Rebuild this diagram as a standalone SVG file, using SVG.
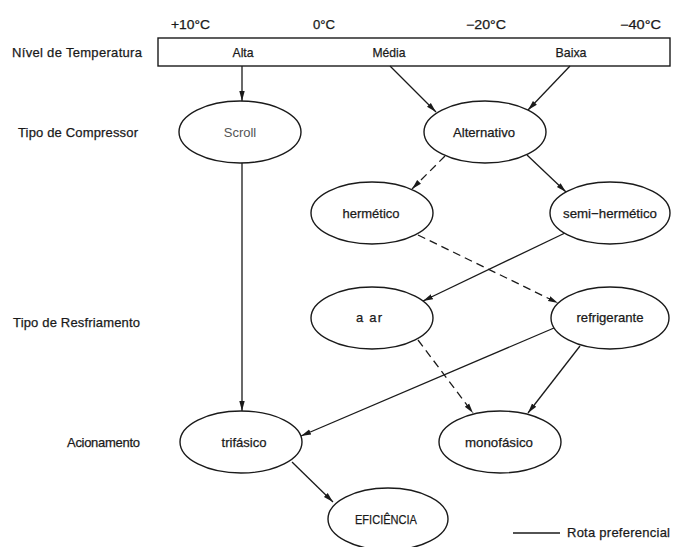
<svg xmlns="http://www.w3.org/2000/svg" width="678" height="547" viewBox="0 0 678 547">
<style>
text{font-family:"Liberation Sans",Arial,sans-serif;font-size:13px;fill:#1a1a1a;stroke:#1a1a1a;stroke-width:0.25}
.s{font-size:12px}
.c{text-anchor:middle}
.n{fill:#fff;stroke:#1a1a1a;stroke-width:1.4}
.e{fill:none;stroke:#1a1a1a;stroke-width:1.3}
.d{stroke-dasharray:8 5}
</style>
<defs>
<marker id="a" markerUnits="userSpaceOnUse" markerWidth="10" markerHeight="8" viewBox="0 0 10 8" refX="10" refY="4" orient="auto">
<path d="M0,1.3 L10,4 L0,6.7 Z" fill="#1a1a1a"/>
</marker>
</defs>
<rect width="678" height="547" fill="#fff"/>
<g id="scale">
<text class="s" x="171" y="29" textLength="39" lengthAdjust="spacingAndGlyphs">+10°C</text>
<text class="s" x="313" y="29" textLength="22" lengthAdjust="spacingAndGlyphs">0°C</text>
<text class="s" x="466" y="29" textLength="40" lengthAdjust="spacingAndGlyphs">−20°C</text>
<text class="s" x="620" y="29" textLength="41" lengthAdjust="spacingAndGlyphs">−40°C</text>
</g>
<g id="row-labels">
<text x="12" y="57" textLength="130">Nível de Temperatura</text>
<text x="18" y="137" textLength="120">Tipo de Compressor</text>
<text x="13" y="327" textLength="127">Tipo de Resfriamento</text>
<text x="67" y="447" textLength="73">Acionamento</text>
</g>
<g id="temperatura">
<rect x="158" y="38" width="512" height="28" fill="#fff" stroke="#1a1a1a" stroke-width="1.4"/>
<text class="c" x="243" y="57" textLength="21" lengthAdjust="spacingAndGlyphs">Alta</text>
<text class="c" x="389" y="57" textLength="33" lengthAdjust="spacingAndGlyphs">Média</text>
<text class="c" x="571" y="57" textLength="31" lengthAdjust="spacingAndGlyphs">Baixa</text>
</g>
<g id="connectors">
<line class="e" x1="242" y1="66" x2="242" y2="101" marker-end="url(#a)"/>
<line class="e" x1="390" y1="66" x2="436" y2="112" marker-end="url(#a)"/>
<line class="e" x1="570" y1="66" x2="528" y2="110" marker-end="url(#a)"/>
<line class="e d" x1="445" y1="156" x2="412" y2="189" marker-end="url(#a)"/>
<line class="e" x1="527" y1="155" x2="566" y2="192" marker-end="url(#a)"/>
<line class="e d" x1="418" y1="235" x2="558" y2="303" marker-end="url(#a)"/>
<line class="e" x1="565" y1="233" x2="423" y2="301" marker-end="url(#a)"/>
<line class="e" x1="554" y1="328" x2="301" y2="436" marker-end="url(#a)"/>
<line class="e d" x1="418" y1="340" x2="473" y2="413" marker-end="url(#a)"/>
<line class="e" x1="580" y1="346" x2="528" y2="413" marker-end="url(#a)"/>
<line class="e" x1="242" y1="163" x2="242" y2="411" marker-end="url(#a)"/>
<line class="e" x1="292" y1="462" x2="333" y2="502" marker-end="url(#a)"/>
<line class="e" x1="513" y1="533" x2="560" y2="533"/>
</g>
<g id="scroll"><ellipse class="n" cx="240" cy="132" rx="61" ry="31"/><text class="c" x="240" y="137" style="fill:#555;stroke:none">Scroll</text></g>
<g id="alternativo"><ellipse class="n" cx="485" cy="132" rx="61" ry="31"/><text class="c" x="484" y="137" textLength="62" lengthAdjust="spacingAndGlyphs">Alternativo</text></g>
<g id="hermetico"><ellipse class="n" cx="372" cy="213" rx="61" ry="31"/><text class="c" x="371" y="218" textLength="57" lengthAdjust="spacingAndGlyphs">hermético</text></g>
<g id="semi-hermetico"><ellipse class="n" cx="610" cy="213" rx="60" ry="31"/><text class="c" x="610" y="218" textLength="94" lengthAdjust="spacingAndGlyphs">semi−hermético</text></g>
<g id="a-ar"><ellipse class="n" cx="372" cy="318" rx="61" ry="31"/><text class="c" x="369" y="322" textLength="26">a  ar</text></g>
<g id="refrigerante"><ellipse class="n" cx="610" cy="318" rx="59" ry="31"/><text class="c" x="610" y="322" textLength="67" lengthAdjust="spacingAndGlyphs">refrigerante</text></g>
<g id="trifasico"><ellipse class="n" cx="241" cy="442" rx="61" ry="31"/><text class="c" x="244" y="447" textLength="45" lengthAdjust="spacingAndGlyphs">trifásico</text></g>
<g id="monofasico"><ellipse class="n" cx="500" cy="442" rx="61" ry="31"/><text class="c" x="499" y="447" textLength="68" lengthAdjust="spacingAndGlyphs">monofásico</text></g>
<g id="eficiencia"><ellipse class="n" cx="388" cy="519" rx="60" ry="31"/><text class="c" x="386" y="524" textLength="62" lengthAdjust="spacingAndGlyphs">EFICIÊNCIA</text></g>
<g id="legend"><text x="567" y="537" textLength="103">Rota preferencial</text></g>
</svg>
